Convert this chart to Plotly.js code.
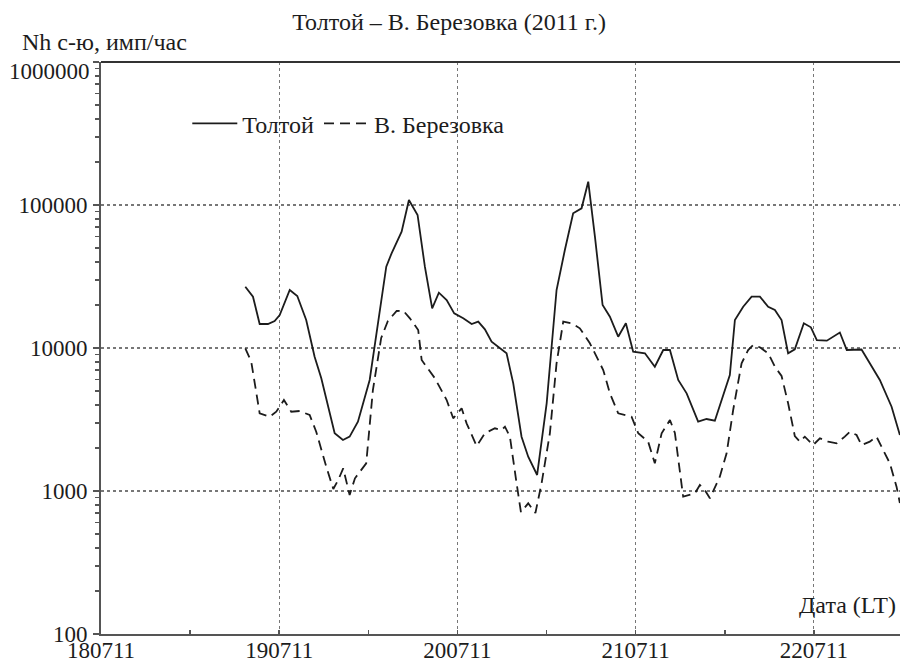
<!DOCTYPE html>
<html>
<head>
<meta charset="utf-8">
<script src="https://cdn.plot.ly/plotly-3.0.1.min.js"></script>
<style>html,body{margin:0;padding:0;background:#fff;}#chart{width:900px;height:666px;}</style>
</head>
<body>
<div id="chart"></div>
<script>
// Толтой
const toltoyTime = [
"2011-07-18 19:26","2011-07-18 20:28","2011-07-18 21:22","2011-07-18 22:29","2011-07-18 23:23",
"2011-07-19 00:04","2011-07-19 01:25","2011-07-19 02:26","2011-07-19 03:38","2011-07-19 04:46",
"2011-07-19 05:40","2011-07-19 07:28","2011-07-19 08:35","2011-07-19 09:29","2011-07-19 10:36",
"2011-07-19 12:11","2011-07-19 14:25","2011-07-19 15:08","2011-07-19 16:29","2011-07-19 17:28",
"2011-07-19 18:38","2011-07-19 19:37","2011-07-19 20:36","2011-07-19 21:30","2011-07-19 22:33",
"2011-07-19 23:34","2011-07-20 00:47","2011-07-20 01:55","2011-07-20 02:48","2011-07-20 03:42",
"2011-07-20 04:36","2011-07-20 05:43","2011-07-20 06:37","2011-07-20 07:31","2011-07-20 08:38",
"2011-07-20 09:32","2011-07-20 10:44","2011-07-20 12:01","2011-07-20 13:21","2011-07-20 14:28",
"2011-07-20 15:35","2011-07-20 16:43","2011-07-20 17:37","2011-07-20 18:31","2011-07-20 19:33",
"2011-07-20 20:32","2011-07-20 21:39","2011-07-20 22:41","2011-07-20 23:40","2011-07-21 01:15",
"2011-07-21 02:35","2011-07-21 03:43","2011-07-21 04:37","2011-07-21 05:44","2011-07-21 06:52",
"2011-07-21 08:25","2011-07-21 09:33","2011-07-21 10:40","2011-07-21 12:41","2011-07-21 13:22",
"2011-07-21 14:29","2011-07-21 15:37","2011-07-21 16:44","2011-07-21 17:51","2011-07-21 18:45",
"2011-07-21 19:39","2011-07-21 20:32","2011-07-21 21:26","2011-07-21 22:39","2011-07-21 23:36",
"2011-07-22 00:24","2011-07-22 01:45","2011-07-22 03:30","2011-07-22 04:26","2011-07-22 06:25",
"2011-07-22 07:32","2011-07-22 08:53","2011-07-22 10:28","2011-07-22 11:35"
];
const toltoyVal = [
26840,22840,14720,14720,15450,
17010,25440,23100,15700,8700,
6140,2533,2273,2398,3052,
5973,37020,45940,65070,108400,
85140,37020,18950,24360,21660,
17480,16130,14720,15280,13510,
11070,9950,9180,5663,2398,
1737,1294,4105,25440,48450,
87500,94830,145600,60020,19980,
16550,12000,14880,9420,9180,
7400,9680,9680,5973,4823,
3052,3188,3102,6475,15700,
19440,22840,22840,19440,18440,
15700,9180,9790,14880,13950,
11370,11250,12840,9680,9760,
7820,5973,3886,2464
];
// В. Березовка
const berezTime = [
"2011-07-18 19:26","2011-07-18 20:14","2011-07-18 21:22","2011-07-18 22:43","2011-07-18 23:36",
"2011-07-19 00:38","2011-07-19 01:37","2011-07-19 02:45","2011-07-19 04:06","2011-07-19 04:59",
"2011-07-19 06:20","2011-07-19 07:17","2011-07-19 07:57","2011-07-19 08:37","2011-07-19 09:29",
"2011-07-19 10:12","2011-07-19 11:43","2011-07-19 12:37","2011-07-19 13:44","2011-07-19 14:38",
"2011-07-19 15:49","2011-07-19 16:42","2011-07-19 17:36","2011-07-19 18:43","2011-07-19 19:11",
"2011-07-19 20:58","2011-07-19 22:33","2011-07-19 23:26","2011-07-20 00:34","2011-07-20 01:14",
"2011-07-20 02:35","2011-07-20 03:42","2011-07-20 05:03","2011-07-20 05:57","2011-07-20 06:24",
"2011-07-20 07:04","2011-07-20 07:58","2011-07-20 08:33","2011-07-20 09:32","2011-07-20 10:30",
"2011-07-20 11:20","2011-07-20 12:27","2011-07-20 13:21","2011-07-20 14:15","2011-07-20 15:23",
"2011-07-20 16:29","2011-07-20 17:50","2011-07-20 19:38","2011-07-20 20:32","2011-07-20 21:39",
"2011-07-20 23:27","2011-07-21 00:21","2011-07-21 01:41","2011-07-21 02:35","2011-07-21 03:30",
"2011-07-21 04:37","2011-07-21 05:17","2011-07-21 06:24","2011-07-21 07:59","2011-07-21 08:39",
"2011-07-21 09:19","2011-07-21 10:00","2011-07-21 11:20","2011-07-21 12:15","2011-07-21 13:08",
"2011-07-21 14:16","2011-07-21 15:09","2011-07-21 15:50","2011-07-21 16:44","2011-07-21 17:51",
"2011-07-21 18:45","2011-07-21 19:39","2011-07-21 20:32","2011-07-21 21:26","2011-07-21 22:07",
"2011-07-21 22:47","2011-07-21 23:54","2011-07-22 00:49","2011-07-22 01:56","2011-07-22 03:04",
"2011-07-22 04:10","2011-07-22 04:51","2011-07-22 05:45","2011-07-22 06:25","2011-07-22 07:32",
"2011-07-22 08:26","2011-07-22 09:20","2011-07-22 10:14","2011-07-22 11:08","2011-07-22 11:35"
];
const berezVal = [
9950,8020,3495,3308,3585,
4329,3585,3626,3400,2598,
1479,1033,1194,1441,938,
1227,1562,5085,11750,15450,
18150,18240,16130,13360,8245,
6140,4329,3224,3786,2974,
2064,2533,2745,2671,2816,
2398,1132,713,820,702,
1132,2533,7820,15280,14880,
13730,10790,7019,4823,3495,
3308,2533,2212,1562,2533,
3137,2545,912,963,1102,
1016,889,1259,1834,3685,
7820,9680,10500,10110,9180,
7400,6372,4105,2425,2212,
2398,2097,2336,2212,2156,
2398,2598,2464,2097,2212,
2398,1935,1562,1072,824
];
const seriesNames = ["Толтой", "В. Березовка"];
const xTickDays = ["2011-07-18","2011-07-19","2011-07-20","2011-07-21","2011-07-22"];
const yTickVals = [100, 1000, 10000, 100000, 1000000];
const chartTitle = "Толтой – В. Березовка (2011 г.)";
const yTitle = "Nh с-ю, имп/час";
const xTitle = "Дата (LT)";

const FONT = "Liberation Serif";
const FS = 24;
const TFS = 23;
const INK = "#1c1c1c";

const minorY = [];
for (let e = 2; e < 6; e++) for (let m = 2; m <= 9; m++) minorY.push(m * Math.pow(10, e));
const topTick = yTickVals[yTickVals.length - 1];

const traces = [
  {x: toltoyTime, y: toltoyVal, name: seriesNames[0], type: "scatter", mode: "lines",
   line: {color: INK, width: 1.8}},
  {x: berezTime, y: berezVal, name: seriesNames[1], type: "scatter", mode: "lines",
   line: {color: INK, width: 1.8, dash: "10px,6px"}}
];

const layout = {
  width: 900, height: 666,
  margin: {l: 101, r: 0, t: 62, b: 32, pad: 0},
  paper_bgcolor: "#fff", plot_bgcolor: "#fff",
  font: {family: FONT, size: FS, color: INK},
  title: {text: chartTitle, xref: "container", x: 0.499, xanchor: "center", y: 0.967, yanchor: "middle",
          font: {family: FONT, size: FS, color: INK}},
  showlegend: true,
  legend: {orientation: "h", x: 0.108, xanchor: "left", y: 0.892, yanchor: "middle",
           bgcolor: "rgba(0,0,0,0)", font: {family: FONT, size: FS, color: INK},
           itemwidth: 45, tracegroupgap: 0},
  xaxis: {
    type: "date", range: ["2011-07-18 00:00", "2011-07-22 11:36"],
    tickmode: "array", tickvals: xTickDays,
    ticktext: xTickDays.map(d => d.slice(8,10) + d.slice(5,7) + d.slice(2,4)),
    ticks: "inside", ticklen: 4, tickwidth: 1.5, tickcolor: "#555",
    minor: {dtick: 43200000, tick0: "2011-07-18 12:00", ticks: "inside", ticklen: 4, tickwidth: 1.5, tickcolor: "#555", showgrid: false},
    showline: true, linecolor: "#555", linewidth: 2,
    showgrid: true, gridcolor: "#777", griddash: "dot", gridwidth: 1.2,
    zeroline: false, tickfont: {family: FONT, size: TFS, color: INK}, ticklabelstandoff: -6
  },
  yaxis: {
    type: "log", range: [2, 6],
    tickmode: "array", tickvals: yTickVals, ticktext: yTickVals.map(v => v === topTick ? "" : String(v)),
    ticks: "outside", ticklen: 6, tickwidth: 1.5, tickcolor: "#555",
    minor: {tickmode: "array", tickvals: minorY, ticks: "outside", ticklen: 4, tickwidth: 1.5, tickcolor: "#555", showgrid: false},
    showline: true, linecolor: "#555", linewidth: 2,
    showgrid: true, gridcolor: "#777", griddash: "dot", gridwidth: 1.2,
    zeroline: false, tickfont: {family: FONT, size: TFS, color: INK}, ticklabelstandoff: 1
  },
  yaxis2: {
    type: "log", range: [2, 6], overlaying: "y", side: "left", anchor: "x",
    showgrid: false, showticklabels: false, zeroline: false, showline: false,
    tickmode: "array", tickvals: minorY, ticks: "inside", ticklen: 4, tickwidth: 1.5, tickcolor: "#555"
  },
  xaxis2: {
    type: "date", range: ["2011-07-18 00:00", "2011-07-22 11:36"], overlaying: "x", side: "bottom", anchor: "y",
    showgrid: false, showticklabels: false, zeroline: false, showline: false,
    tickmode: "array", tickvals: xTickDays.map(d => d + " 12:00"),
    ticks: "outside", ticklen: 4, tickwidth: 1.5, tickcolor: "#555"
  },
  shapes: [
    {type: "line", xref: "paper", yref: "paper", x0: 0, x1: 1, y0: 1, y1: 1,
     line: {color: "#333", width: 2}}
  ],
  annotations: [
    {text: yTitle, xref: "paper", yref: "paper", x: -0.1014, y: 1.035, xanchor: "left", yanchor: "middle",
     showarrow: false, font: {family: FONT, size: FS, color: INK}},
    {text: String(topTick), xref: "paper", yref: "y", x: -0.011, y: 6, xanchor: "right", yanchor: "middle",
     yshift: -9, showarrow: false, font: {family: FONT, size: TFS, color: INK}},
    {text: xTitle, xref: "paper", yref: "paper", x: 0.997, y: 0.051, xanchor: "right", yanchor: "middle",
     showarrow: false, font: {family: FONT, size: FS, color: INK}}
  ]
};

Plotly.newPlot("chart", traces, layout, {displayModeBar: false, staticPlot: true});
</script>
</body>
</html>
